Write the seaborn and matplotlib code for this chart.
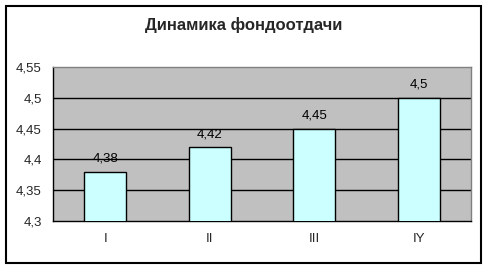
import matplotlib
matplotlib.use("Agg")
import matplotlib.pyplot as plt
import matplotlib.patches as mpatches
from matplotlib.ticker import FixedLocator, FuncFormatter
import seaborn as sns
import pandas as pd

categories = ["I", "II", "III", "IY"]
values = [4.38, 4.42, 4.45, 4.5]
title = "Динамика фондоотдачи"

sns.set_style("white")
plt.rcParams['font.family'] = ['Liberation Sans', 'DejaVu Sans']

W, H = 487, 269
fig = plt.figure(figsize=(W / 100, H / 100), dpi=100)
fig.patch.set_facecolor("white")

# outer frame
fig.patches.append(mpatches.Rectangle((5.5 / W, (H - 263) / H), 475.5 / W, 257.5 / H, transform=fig.transFigure,
                                      facecolor="white", edgecolor="black", linewidth=1.5, zorder=1))

left, right, top, bottom = 53, 471, 67, 221
ax = fig.add_axes([left / W, 1 - bottom / H, (right - left) / W, (bottom - top) / H])
ax.set_zorder(2)

df = pd.DataFrame({"cat": categories, "val": values})
sns.barplot(data=df, x="cat", y="val", color="#CCFFFF", edgecolor="black", linewidth=1,
            width=0.4, saturation=1, ax=ax, zorder=3)

ax.set_facecolor("#C0C0C0")
ax.set_ylim(4.3, 4.55)
ax.set_xlim(-0.5, 3.5)
yt = [4.3, 4.35, 4.4, 4.45, 4.5, 4.55]
ax.yaxis.set_major_locator(FixedLocator(yt))
ax.yaxis.set_major_formatter(FuncFormatter(lambda v, p: f"{v:g}".replace(".", ",")))
for y in yt[1:-1]:
    ax.axhline(y, color="black", linewidth=1, zorder=1)

for i, v in enumerate(values):
    ax.text(i, v + 0.016, f"{v:g}".replace(".", ","), ha="center", va="baseline",
            fontsize=9.5, color="black", zorder=4)

ax.set_xlabel("")
ax.set_ylabel("")
ax.xaxis.set_minor_locator(FixedLocator([-0.5, 0.5, 1.5, 2.5, 3.5]))
ax.tick_params(axis="x", which="major", length=0, pad=9, labelsize=9.5)
ax.tick_params(axis="x", which="minor", length=4, width=1, color="black", direction="out")
ax.tick_params(axis="y", length=4, width=1, color="black", direction="out", pad=4, labelsize=9.5)

for s in ["left", "bottom"]:
    ax.spines[s].set_color("black")
    ax.spines[s].set_linewidth(1)
for s in ["top", "right"]:
    ax.spines[s].set_color("#808080")
    ax.spines[s].set_linewidth(1)
    ax.spines[s].set_visible(True)

fig.text(0.5, 1 - 25 / H, title, ha="center", va="center", fontsize=12, fontweight="bold", zorder=5)

fig.savefig("out.png", dpi=100)
